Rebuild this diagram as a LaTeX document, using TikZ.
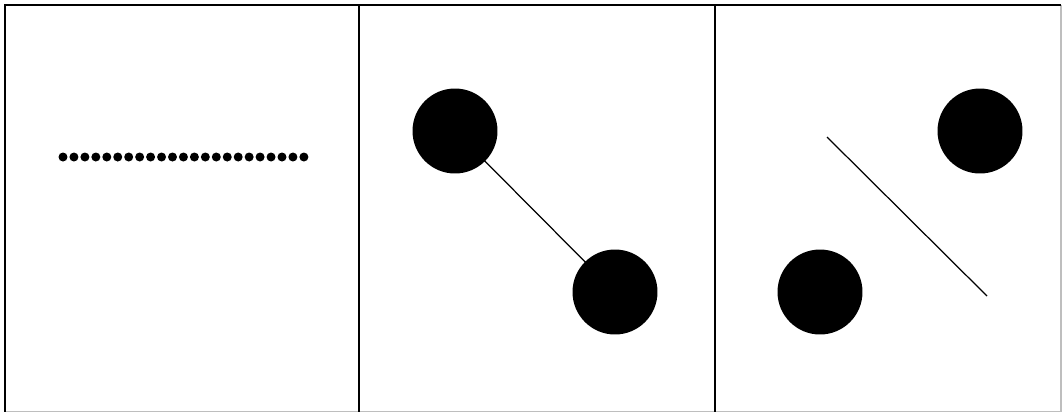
\documentclass[tikz,border=0pt]{standalone}
\usetikzlibrary{positioning}
\definecolor{colFrame}{RGB}{0,0,0}
\definecolor{colEdge}{RGB}{190,190,190}
\definecolor{colBall}{RGB}{0,0,0}
\tikzset{
  frameLine/.style={
    draw=colFrame, line width=1.2pt
  },
  edgeLine/.style={
    draw=colEdge, line width=0.6pt
  },
  ball/.style={
    circle, fill=colBall, inner sep=0pt, minimum size=1.7cm
  },
  bead/.style={
    circle, fill=colBall, inner sep=0pt, minimum size=0.18cm
  },
  rod/.style={
    draw=colBall, line width=0.7pt
  }
}

\begin{document}
\begin{tikzpicture}[x=0.02cm, y=-0.02cm]
  \useasboundingbox (0,0) rectangle (1063,413);

  % panel frames
  \draw[edgeLine] (5,411.5) -- (1061,411.5) -- (1061,5);
  \draw[frameLine] (5,411.5) -- (5,5) -- (1061,5);
  \draw[frameLine] (359,5) -- (359,411.5);
  \draw[frameLine] (715,5) -- (715,411.5);

  % left panel: row of beads
  \foreach \i in {0,...,22}
    \node[bead] (b\i) at ({63+\i*10.95},157) {};

  % middle panel: two balls joined by a rod
  \node[ball] (m1) at (455,131) {};
  \node[ball] (m2) at (615,292) {};
  \draw[rod] (m1.center) -- (m2.center);

  % right panel: two balls, rod apart
  \node[ball] (r1) at (980,131) {};
  \node[ball] (r2) at (820,292) {};
  \coordinate (rodA) at (827,137);
  \coordinate (rodB) at (987,296);
  \draw[rod] (rodA) -- (rodB);

\end{tikzpicture}
\end{document}
